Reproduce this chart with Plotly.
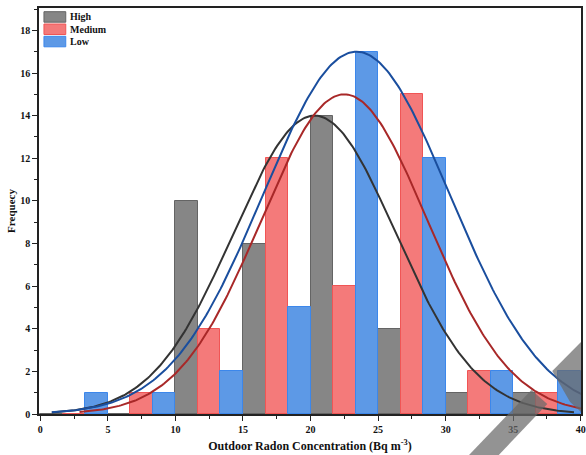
import numpy as np
import plotly.graph_objects as go

bin_centers = [2.5, 7.5, 12.5, 17.5, 22.5, 27.5, 32.5, 37.5]
high = [0, 0, 10, 8, 14, 4, 1, 1]
medium = [0, 1, 4, 12, 6, 15, 2, 1]
low = [1, 1, 2, 5, 17, 12, 2, 2]
series_names = ["High", "Medium", "Low"]

# normal fit curve parameters (amplitude, mean, sigma, x-start, x-end)
fit_high = (14.0, 20.3, 6.0, 0.85, 39.5)
fit_medium = (15.0, 22.5, 6.15, 2.9, 41.0)
fit_low = (17.0, 23.4, 6.9, 0.85, 41.0)

x_ticks = [0, 5, 10, 15, 20, 25, 30, 35, 40]
y_ticks = [0, 2, 4, 6, 8, 10, 12, 14, 16, 18]

FONT = "Liberation Serif"
W, H = 586, 455
ML, MR, MT, MB = 39, 0, 8, 41
PW, PH = W - ML - MR, H - MT - MB


def px(x):
    return (x - ML) / PW


def py(y):
    return (H - MB - y) / PH


fills = ["rgb(134,134,134)", "rgb(244,122,122)", "rgb(93,153,230)"]
edges = ["rgb(100,100,100)", "rgb(240,85,85)", "rgb(60,135,235)"]
curve_cols = ["#333333", "#A82828", "#1A4E9E"]

fig = go.Figure()
for name, vals, fill, edge in zip(series_names, [high, medium, low], fills, edges):
    fig.add_trace(go.Bar(x=bin_centers, y=vals, name=name, showlegend=False,
                         marker=dict(color=fill, line=dict(color=edge, width=1))))

for (A, mu, s, x0, x1), col in zip([fit_high, fit_medium, fit_low], curve_cols):
    xs = np.linspace(x0, x1, 300)
    ys = A * np.exp(-(xs - mu) ** 2 / (2 * s ** 2))
    fig.add_trace(go.Scatter(x=xs, y=ys, mode="lines", showlegend=False,
                             line=dict(color=col, width=2), hoverinfo="skip"))

shapes = []
annotations = []
# manual legend (top-left inside the plot)
for i, (name, fill, edge) in enumerate(zip(series_names, fills, edges)):
    y0 = 11.7 + i * 12.3
    shapes.append(dict(type="rect", xref="paper", yref="paper",
                       x0=px(44), x1=px(66), y0=py(y0 + 10.5), y1=py(y0),
                       fillcolor=fill, line=dict(color=edge, width=1)))
    annotations.append(dict(xref="paper", yref="paper", x=px(68), y=py(y0 + 5.2),
                            xanchor="left", yanchor="middle", showarrow=False,
                            text=name, font=dict(family=FONT, size=10, color="#111", weight="bold")))

# grey diagonal watermark fragments at lower right
wm = "rgba(105,105,105,0.72)"
polyA = [(473, 455), (536, 390), (552, 404), (503, 455)]
polyB = [(557, 371), (586, 342), (586, 412), (575, 402)]
for poly in (polyA, polyB):
    path = "M " + " L ".join(f"{px(a):.4f},{py(b):.4f}" for a, b in poly) + " Z"
    shapes.append(dict(type="path", xref="paper", yref="paper", path=path,
                       fillcolor=wm, line=dict(width=0), layer="above"))

axis_common = dict(
    showline=True, linecolor="#222", linewidth=1.5, mirror=True,
    ticks="outside", ticklen=5, tickwidth=1.2, tickcolor="#222",
    showgrid=False, zeroline=False, ticklabeloverflow="allow",
    tickfont=dict(family=FONT, size=10, color="#111", weight="bold"),
)

fig.update_layout(
    width=W, height=H,
    margin=dict(l=ML, r=MR, t=MT, b=MB),
    paper_bgcolor="white", plot_bgcolor="white",
    barmode="group", bargap=0, bargroupgap=0,
    font=dict(family=FONT, color="#111"),
    showlegend=False,
    shapes=shapes, annotations=annotations,
    xaxis=dict(range=[-0.1, 40.02], tickvals=x_ticks,
               title=dict(text="Outdoor Radon Concentration (Bq m<sup>-3</sup>)",
                          font=dict(family=FONT, size=12, weight="bold"), standoff=8),
               minor=dict(dtick=2.5, ticks="outside", ticklen=3, tickwidth=1, tickcolor="#222"),
               **axis_common),
    yaxis=dict(range=[0, 19.05], tickvals=y_ticks,
               title=dict(text="Frequecy", font=dict(family=FONT, size=11, weight="bold"), standoff=2),
               minor=dict(dtick=1, ticks="outside", ticklen=3, tickwidth=1, tickcolor="#222"),
               **axis_common),
)

fig.write_html("out.html", config={"displayModeBar": False},
               post_script="document.body.style.margin='0';document.body.style.overflow='hidden';")
